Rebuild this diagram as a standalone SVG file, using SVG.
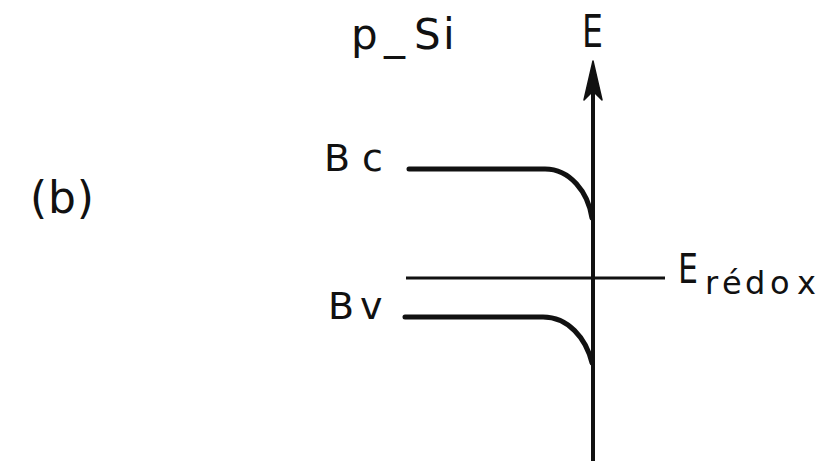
<svg xmlns="http://www.w3.org/2000/svg" width="821" height="461" viewBox="0 0 821 461">
<style>
text{font-family:"DejaVu Sans","Liberation Sans",sans-serif;fill:#111}
.band{fill:none;stroke:#111;stroke-width:5;stroke-linecap:round}
.thin{fill:none;stroke:#111;stroke-width:2.8}
.axis{fill:none;stroke:#111;stroke-width:4}
</style>
<rect width="821" height="461" fill="#fff"/>
<g id="label-b"><text x="30" y="213" font-size="44" textLength="64" lengthAdjust="spacing">(b)</text></g>
<g id="label-psi"><text x="351 384 414 443" y="49" font-size="42">p_Si</text></g>
<g id="label-E"><text x="582" y="47" font-size="44" textLength="21" lengthAdjust="spacingAndGlyphs">E</text></g>
<g id="connectors">
<line class="axis" x1="593" y1="72" x2="593" y2="461"/>
<path d="M584,100 L593,61 L602,100 L593,91 Z" fill="#111" stroke="#111" stroke-width="1.5" stroke-linejoin="round"/>
</g>
<g id="Bc">
<text x="324 362" y="171" font-size="38">Bc</text>
<path class="band" d="M409,169 L545,169 C570,169 588,192 592,218"/>
</g>
<g id="Eredox">
<line class="thin" x1="406" y1="278" x2="665" y2="278"/>
<text x="678" y="283" font-size="41" textLength="20" lengthAdjust="spacingAndGlyphs">E</text>
<text x="705 722 745 770 797" y="294" font-size="32">rédox</text>
</g>
<g id="Bv">
<text x="328 360" y="319" font-size="38">Bv</text>
<path class="band" d="M405,317 L543,317 C568,317 586,338 592,363"/>
</g>
</svg>
